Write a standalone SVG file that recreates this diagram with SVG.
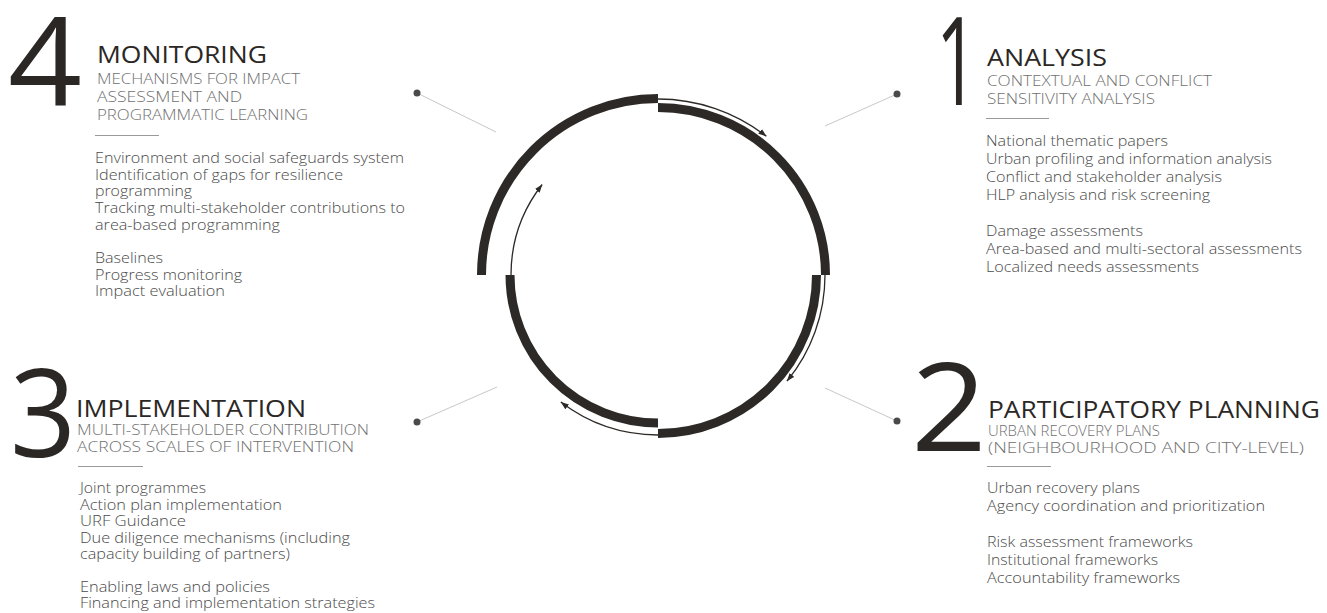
<svg xmlns="http://www.w3.org/2000/svg" width="1327" height="613" viewBox="0 0 1327 613">
<style>
.num{font-family:"Open Sans","Liberation Sans",sans-serif;font-weight:380;font-size:122px;fill:#2b2725}
.ttl{font-family:"Open Sans","Liberation Sans",sans-serif;font-weight:400;font-size:23px;fill:#2b2725}
.sub{font-family:"Open Sans","Liberation Sans",sans-serif;font-weight:300;font-size:14px;fill:#707070}
.body{font-family:"Open Sans","Liberation Sans",sans-serif;font-weight:300;font-size:14.5px;fill:#4a4a4a}
.sep{stroke:#9a9a9a;stroke-width:1}
.ring{fill:none;stroke:#2d2926;stroke-width:9;stroke-linecap:butt}
.arr{fill:none;stroke:#2d2926;stroke-width:1.3}
.lead{stroke:#c8c8c8;stroke-width:1}
.dot{fill:#4a4a4a}
</style>
<defs>
<marker id="ah" viewBox="0 0 10 10" refX="10" refY="5" markerWidth="8" markerHeight="6" markerUnits="userSpaceOnUse" orient="auto" preserveAspectRatio="none">
<path d="M0,0 L10,5 L0,10 Z" fill="#2d2926"/>
</marker>
</defs>
<rect width="1327" height="613" fill="#ffffff"/>

<g id="cycle">
<path class="ring" d="M481.5 275 A176.5 176.5 0 0 1 658 98.5"/>
<path class="ring" d="M658 107.5 A167.5 167.5 0 0 1 825.5 275"/>
<path class="ring" d="M816.5 275 A158.5 158.5 0 0 1 658 433.5"/>
<path class="ring" d="M658 423 A148 148 0 0 1 510 275"/>
</g>

<g id="connectors">
<path class="arr" marker-end="url(#ah)" d="M658 99 A176 176 0 0 1 766.4 136.3"/>
<path class="arr" marker-end="url(#ah)" d="M825 275 A167 167 0 0 1 786.9 381.2"/>
<path class="arr" marker-end="url(#ah)" d="M658 435 A160 160 0 0 1 560.8 402.1"/>
<path class="arr" marker-end="url(#ah)" d="M511 275 A147 147 0 0 1 542.2 184.5"/>
<line class="lead" x1="417" y1="93" x2="496" y2="132"/>
<line class="lead" x1="897" y1="94" x2="825" y2="126"/>
<line class="lead" x1="417" y1="422" x2="497" y2="387"/>
<line class="lead" x1="897" y1="421" x2="825" y2="388"/>
<circle class="dot" cx="417" cy="93" r="3.5"/>
<circle class="dot" cx="897" cy="94" r="3.5"/>
<circle class="dot" cx="417" cy="422" r="3.5"/>
<circle class="dot" cx="897" cy="421" r="3.5"/>
</g>

<g id="step4">
<text class="num" x="8" y="105" textLength="74" lengthAdjust="spacingAndGlyphs">4</text>
<text class="ttl" x="97" y="63" textLength="170" lengthAdjust="spacingAndGlyphs">MONITORING</text>
<text class="sub" x="97" y="84" textLength="203" lengthAdjust="spacingAndGlyphs">MECHANISMS FOR IMPACT</text>
<text class="sub" x="97" y="102" textLength="145" lengthAdjust="spacingAndGlyphs">ASSESSMENT AND</text>
<text class="sub" x="97" y="120" textLength="211" lengthAdjust="spacingAndGlyphs">PROGRAMMATIC LEARNING</text>
<line class="sep" x1="95" y1="135.5" x2="159" y2="135.5"/>
<text class="body" x="95" y="163" textLength="309" lengthAdjust="spacingAndGlyphs">Environment and social safeguards system</text>
<text class="body" x="95" y="180" textLength="248" lengthAdjust="spacingAndGlyphs">Identification of gaps for resilience</text>
<text class="body" x="95" y="196" textLength="97" lengthAdjust="spacingAndGlyphs">programming</text>
<text class="body" x="95" y="213" textLength="310" lengthAdjust="spacingAndGlyphs">Tracking multi-stakeholder contributions to</text>
<text class="body" x="95" y="230" textLength="185" lengthAdjust="spacingAndGlyphs">area-based programming</text>
<text class="body" x="95" y="263" textLength="68" lengthAdjust="spacingAndGlyphs">Baselines</text>
<text class="body" x="95" y="280" textLength="147" lengthAdjust="spacingAndGlyphs">Progress monitoring</text>
<text class="body" x="95" y="296" textLength="130" lengthAdjust="spacingAndGlyphs">Impact evaluation</text>
</g>

<g id="step1">
<text class="num" x="936" y="105" textLength="42" lengthAdjust="spacingAndGlyphs">1</text>
<text class="ttl" x="987" y="66" textLength="120" lengthAdjust="spacingAndGlyphs">ANALYSIS</text>
<text class="sub" x="987" y="86" textLength="225" lengthAdjust="spacingAndGlyphs">CONTEXTUAL AND CONFLICT</text>
<text class="sub" x="987" y="104" textLength="168" lengthAdjust="spacingAndGlyphs">SENSITIVITY ANALYSIS</text>
<line class="sep" x1="986" y1="118.5" x2="1049" y2="118.5"/>
<text class="body" x="986" y="146" textLength="182" lengthAdjust="spacingAndGlyphs">National thematic papers</text>
<text class="body" x="986" y="164" textLength="286" lengthAdjust="spacingAndGlyphs">Urban profiling and information analysis</text>
<text class="body" x="986" y="182" textLength="236" lengthAdjust="spacingAndGlyphs">Conflict and stakeholder analysis</text>
<text class="body" x="986" y="200" textLength="224" lengthAdjust="spacingAndGlyphs">HLP analysis and risk screening</text>
<text class="body" x="986" y="236" textLength="157" lengthAdjust="spacingAndGlyphs">Damage assessments</text>
<text class="body" x="986" y="254" textLength="316" lengthAdjust="spacingAndGlyphs">Area-based and multi-sectoral assessments</text>
<text class="body" x="986" y="272" textLength="213" lengthAdjust="spacingAndGlyphs">Localized needs assessments</text>
</g>

<g id="step3">
<text class="num" x="10" y="457" textLength="66" lengthAdjust="spacingAndGlyphs">3</text>
<text class="ttl" x="76" y="417" textLength="230" lengthAdjust="spacingAndGlyphs">IMPLEMENTATION</text>
<text class="sub" x="77" y="435" textLength="292" lengthAdjust="spacingAndGlyphs">MULTI-STAKEHOLDER CONTRIBUTION</text>
<text class="sub" x="77" y="452" textLength="277" lengthAdjust="spacingAndGlyphs">ACROSS SCALES OF INTERVENTION</text>
<line class="sep" x1="78" y1="466.5" x2="143" y2="466.5"/>
<text class="body" x="80" y="493" textLength="126" lengthAdjust="spacingAndGlyphs">Joint programmes</text>
<text class="body" x="80" y="510" textLength="202" lengthAdjust="spacingAndGlyphs">Action plan implementation</text>
<text class="body" x="80" y="526" textLength="106" lengthAdjust="spacingAndGlyphs">URF Guidance</text>
<text class="body" x="80" y="543" textLength="270" lengthAdjust="spacingAndGlyphs">Due diligence mechanisms (including</text>
<text class="body" x="80" y="559" textLength="210" lengthAdjust="spacingAndGlyphs">capacity building of partners)</text>
<text class="body" x="80" y="592" textLength="190" lengthAdjust="spacingAndGlyphs">Enabling laws and policies</text>
<text class="body" x="80" y="608" textLength="295" lengthAdjust="spacingAndGlyphs">Financing and implementation strategies</text>
</g>

<g id="step2">
<text class="num" x="911" y="451" textLength="76" lengthAdjust="spacingAndGlyphs">2</text>
<text class="ttl" x="988" y="418" textLength="332" lengthAdjust="spacingAndGlyphs">PARTICIPATORY PLANNING</text>
<text class="sub" x="988" y="436" textLength="172" lengthAdjust="spacingAndGlyphs">URBAN RECOVERY PLANS</text>
<text class="sub" x="988" y="453" textLength="316" lengthAdjust="spacingAndGlyphs">(NEIGHBOURHOOD AND CITY-LEVEL)</text>
<line class="sep" x1="987" y1="466.5" x2="1051" y2="466.5"/>
<text class="body" x="987" y="493" textLength="153" lengthAdjust="spacingAndGlyphs">Urban recovery plans</text>
<text class="body" x="987" y="511" textLength="278" lengthAdjust="spacingAndGlyphs">Agency coordination and prioritization</text>
<text class="body" x="987" y="547" textLength="206" lengthAdjust="spacingAndGlyphs">Risk assessment frameworks</text>
<text class="body" x="987" y="565" textLength="171" lengthAdjust="spacingAndGlyphs">Institutional frameworks</text>
<text class="body" x="987" y="583" textLength="193" lengthAdjust="spacingAndGlyphs">Accountability frameworks</text>
</g>
</svg>
